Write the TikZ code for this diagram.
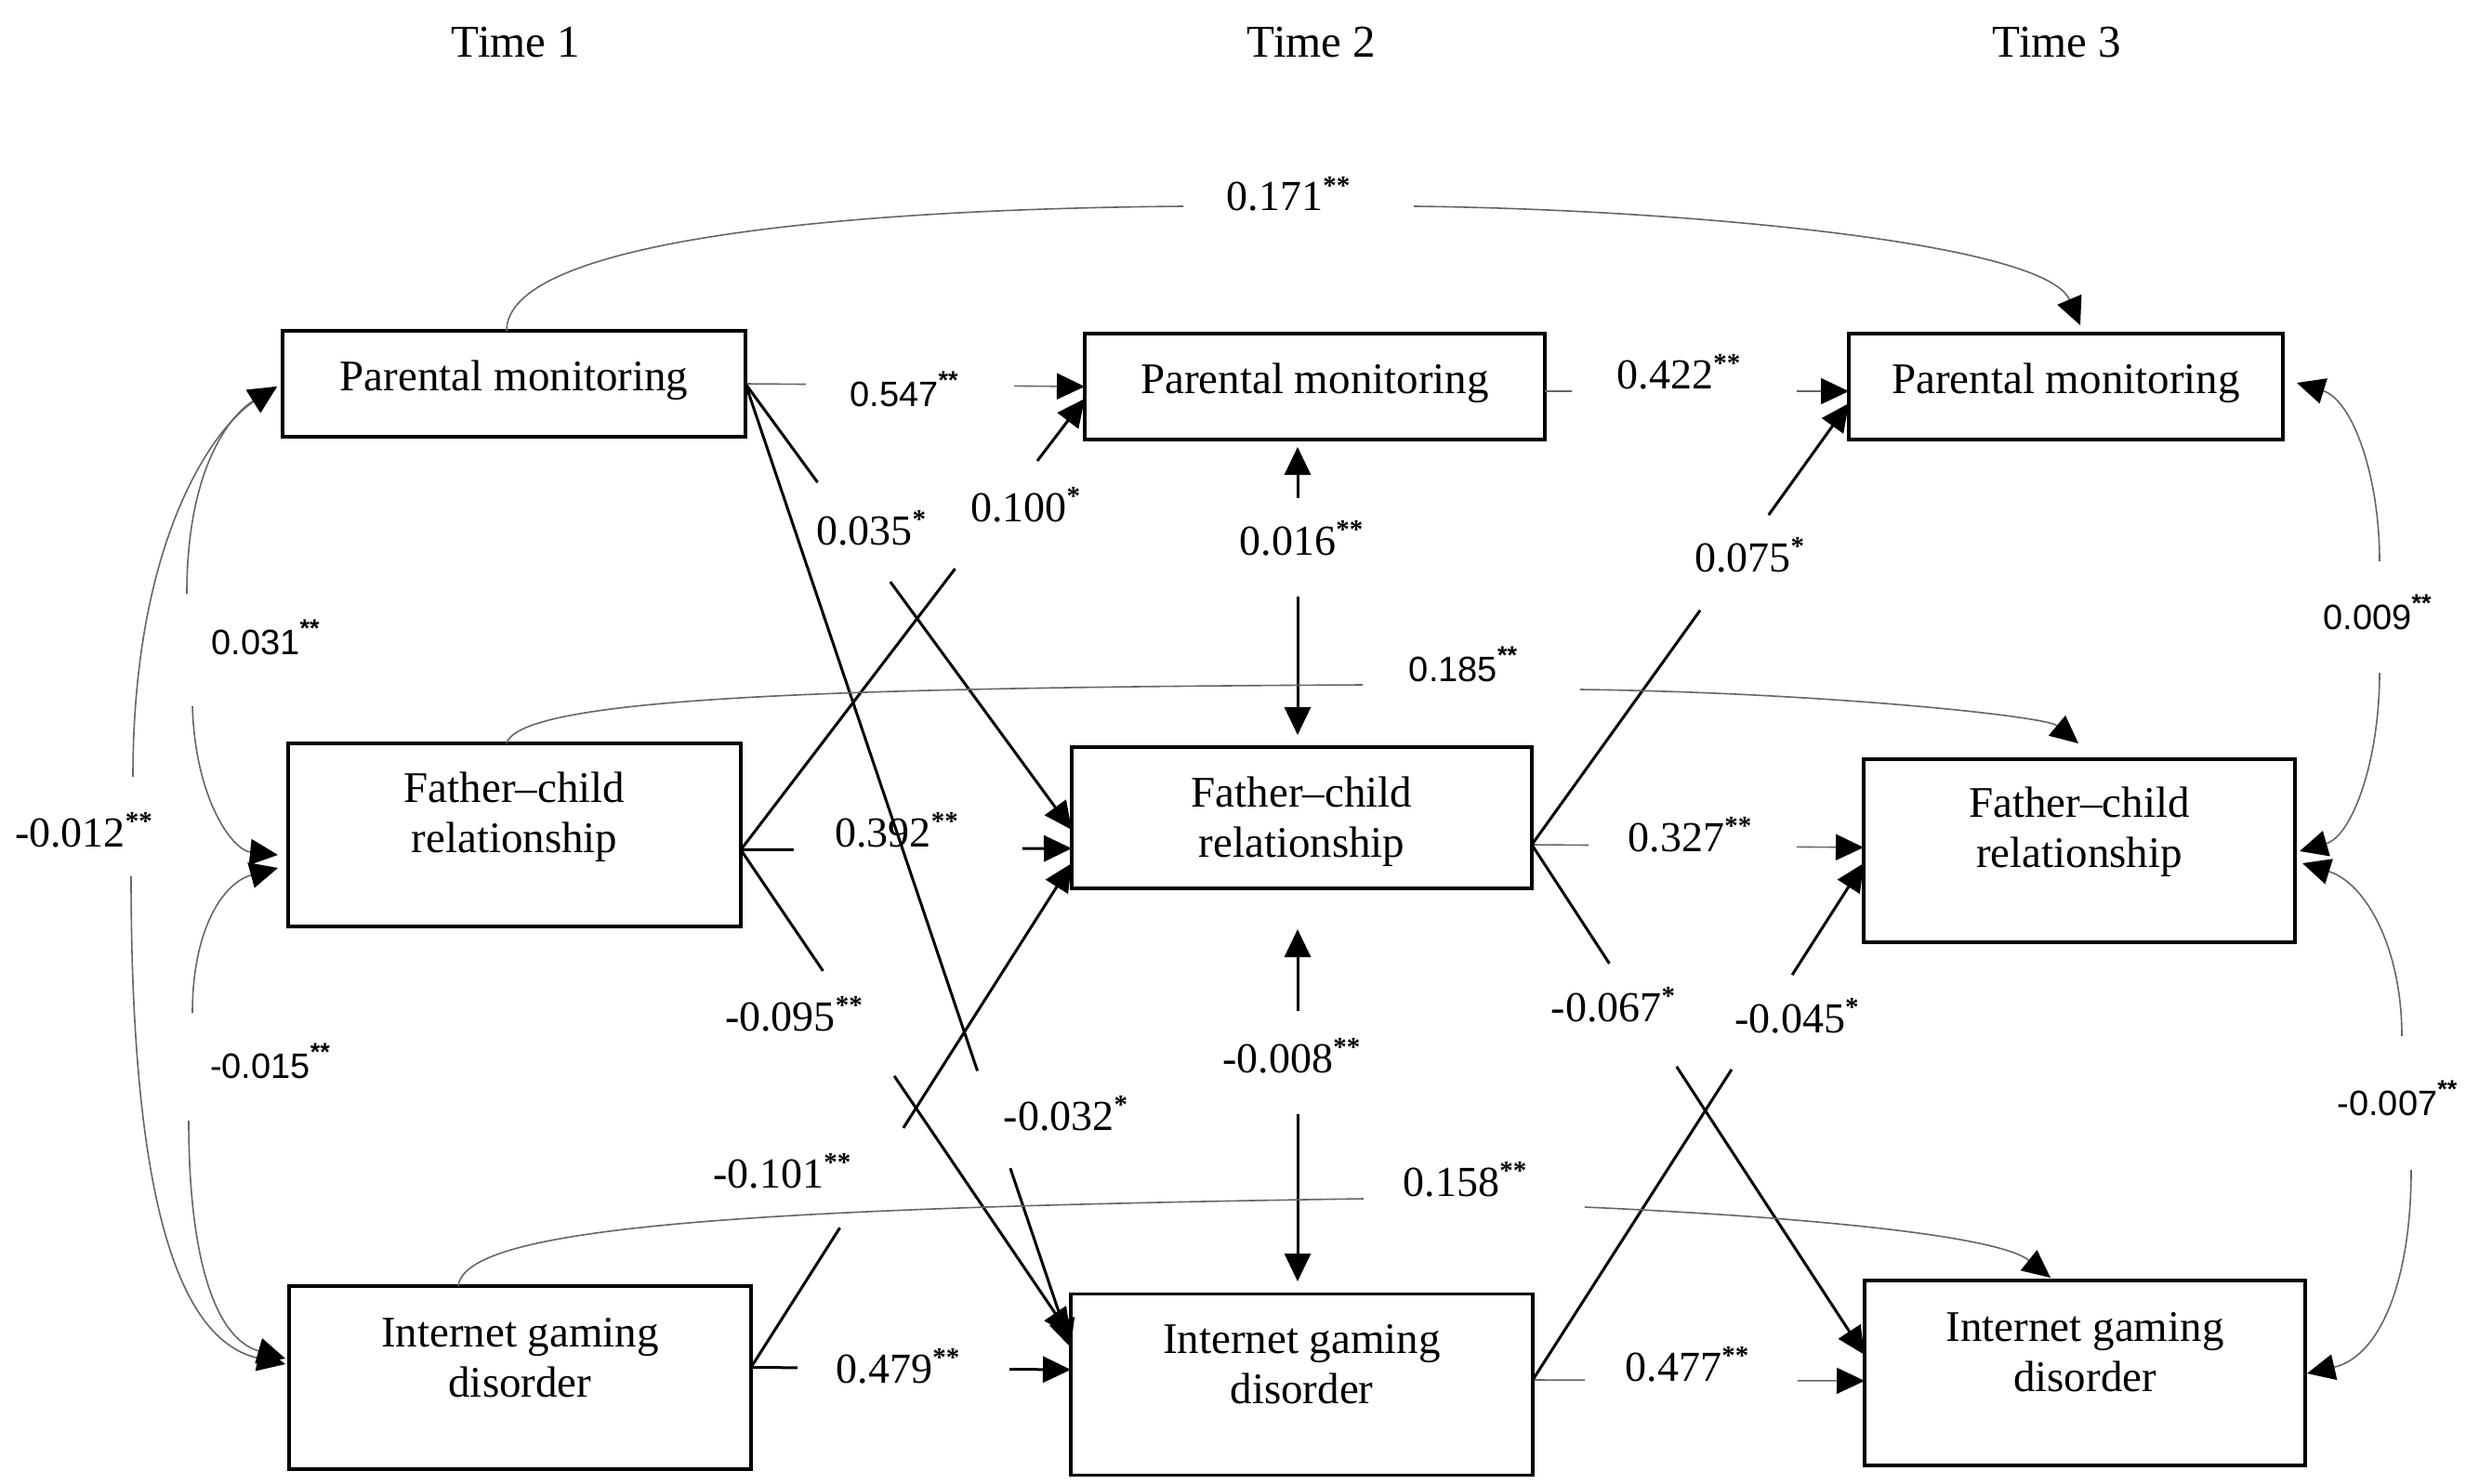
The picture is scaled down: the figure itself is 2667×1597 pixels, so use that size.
\documentclass[tikz,border=0pt]{standalone}
\usepackage{fontspec}
\setmainfont{Liberation Serif}
\newfontfamily\lsans{Liberation Sans}
\usetikzlibrary{arrows.meta,calc}
\newcommand\boxfont{\fontsize{47}{54}\selectfont}
\newcommand\labfont{\fontsize{46}{54}\selectfont}
\newcommand\slabfont{\lsans\fontsize{38}{46}\selectfont}
\newcommand\timefont{\fontsize{49}{56}\selectfont}
\newcommand\sg[1]{\raisebox{0.38em}{\fontsize{29}{29}\selectfont\bfseries #1}}
\newcommand\ssg[1]{\raisebox{0.5em}{\fontsize{27}{27}\selectfont\bfseries #1}}
\newcommand\twol[2]{\begin{tabular}[t]{@{}c@{}}#1\\#2\end{tabular}}
\newcommand\gapline[5]{\draw[#1] (#2) -- ($(#2)!#4!(#3)$); \draw[#1,arrowend] ($(#2)!#5!(#3)$) -- (#3);}
\begin{document}
\begin{tikzpicture}[x=1pt,y=-1pt,
  bx/.style={draw, rectangle, line width=3.5pt, inner sep=0pt, outer sep=0pt},
  bxt/.style={anchor=base, inner sep=0pt, font=\boxfont},
  lab/.style={anchor=base, inner sep=0pt, font=\labfont},
  slab/.style={anchor=base, inner sep=0pt, font=\slabfont},
  timelab/.style={anchor=base, inner sep=0pt, font=\timefont},
  boldln/.style={line width=3pt, draw=black},
  thinln/.style={line width=1.6pt, draw=black!60},
  arrowend/.style={-{Triangle[length=30pt,width=28pt,color=black,fill=black]}},
  arrowstart/.style={{Triangle[length=30pt,width=28pt,color=black,fill=black]}-}
]
\fill[white] (0,0) rectangle (2667,1597);
\useasboundingbox (0,0) rectangle (2667,1597);

% time labels
\node[timelab] (t1) at (555,62) {Time 1};
\node[timelab] (t2) at (1411,62) {Time 2};
\node[timelab] (t3) at (2213,62) {Time 3};

% boxes
\node[bx, minimum width=498, minimum height=114] (pm1) at (553,413) {};
\node[bx, minimum width=487, minimum height=197] (fc1) at (553.5,898.5) {};
\node[bx, minimum width=497, minimum height=197] (igd1) at (559.5,1482.5) {};
\node[bx, minimum width=495, minimum height=114] (pm2) at (1414.5,416) {};
\node[bx, minimum width=495, minimum height=152] (fc2) at (1400.5,880) {};
\node[bx, minimum width=497, minimum height=195] (igd2) at (1400.5,1490) {};
\node[bx, minimum width=467, minimum height=114] (pm3) at (2222.5,416) {};
\node[bx, minimum width=464, minimum height=197] (fc3) at (2237,915.5) {};
\node[bx, minimum width=474, minimum height=199] (igd3) at (2243,1477.5) {};

% box texts
\node[bxt] (pm1t) at ($(pm1.north)+(0,64)$) {Parental monitoring};
\node[bxt] (pm2t) at ($(pm2.north)+(0,64)$) {Parental monitoring};
\node[bxt] (pm3t) at ($(pm3.north)+(0,64)$) {Parental monitoring};
\node[bxt] (fc1t) at ($(fc1.north)+(0,63)$) {\twol{Father–child}{relationship}};
\node[bxt] (fc2t) at ($(fc2.north)+(0,64)$) {\twol{Father–child}{relationship}};
\node[bxt] (fc3t) at ($(fc3.north)+(0,62)$) {\twol{Father–child}{relationship}};
\node[bxt] (igd1t) at ($(igd1.north)+(0,65)$) {\twol{Internet gaming}{disorder}};
\node[bxt] (igd2t) at ($(igd2.north)+(0,64)$) {\twol{Internet gaming}{disorder}};
\node[bxt] (igd3t) at ($(igd3.north)+(0,65)$) {\twol{Internet gaming}{disorder}};

% endpoints
\coordinate (pm1E) at (pm1.east);
\coordinate (fc1E) at ($(fc1.east)+(0,16)$);
\coordinate (igd1E) at ($(igd1.east)+(0,-11)$);
\coordinate (pm2E) at ($(pm2.east)+(0,5)$);
\coordinate (fc2E) at ($(fc2.east)+(0,29)$);
\coordinate (igd2E) at ($(igd2.east)+(0,-5)$);
\coordinate (pm2Wa) at (pm2.west);
\coordinate (pm2Wb) at ($(pm2.west)+(0,13)$);
\coordinate (fc2Wa) at ($(fc2.west)+(0,13)$);
\coordinate (fc2Wb) at ($(fc2.west)+(0,33)$);
\coordinate (fc2Wc) at ($(fc2.west)+(0,49)$);
\coordinate (igd2Wa) at ($(igd2.west)+(0,-52)$);
\coordinate (igd2Wb) at ($(igd2.west)+(0,-40)$);
\coordinate (igd2Wc) at ($(igd2.west)+(0,-16)$);
\coordinate (pm3Wa) at ($(pm3.west)+(0,5)$);
\coordinate (pm3Wb) at ($(pm3.west)+(0,18)$);
\coordinate (fc3Wa) at ($(fc3.west)+(0,-3.5)$);
\coordinate (fc3Wb) at ($(fc3.west)+(0,13.5)$);
\coordinate (igd3Wa) at ($(igd3.west)+(0,-19.5)$);
\coordinate (igd3Wb) at ($(igd3.west)+(0,8.5)$);

% autoregressive paths
\gapline{thinln}{pm1E}{pm2Wa}{0.178}{0.792}
\gapline{thinln}{pm2E}{pm3Wa}{0.089}{0.829}
\gapline{boldln}{fc1E}{fc2Wb}{0.16}{0.851}
\gapline{thinln}{fc2E}{fc3Wa}{0.171}{0.798}
\gapline{boldln}{igd1E}{igd2Wc}{0.145}{0.808}
\gapline{thinln}{igd2E}{igd3Wb}{0.157}{0.798}
% cross-lagged paths
\gapline{boldln}{pm1E}{fc2Wa}{0.221}{0.444}
\gapline{boldln}{pm1E}{igd2Wb}{0.713}{0.814}
\gapline{boldln}{fc1E}{pm2Wb}{0.623}{0.862}
\gapline{boldln}{fc1E}{igd2Wa}{0.249}{0.465}
\gapline{boldln}{igd1E}{fc2Wc}{0.277}{0.475}
\gapline{boldln}{fc2E}{pm3Wb}{0.531}{0.747}
\gapline{boldln}{fc2E}{igd3Wa}{0.233}{0.435}
\gapline{boldln}{igd2E}{fc3Wb}{0.601}{0.784}

% time 2 correlations
\coordinate (v1t) at ($(pm2.south)+(-18.5,8)$);
\coordinate (v1b) at ($(fc2.north)+(-4.5,-13)$);
\draw[boldln,arrowend] ($(v1t)!0.177!(v1b)$) -- (v1t);
\draw[boldln,arrowend] ($(v1t)!0.519!(v1b)$) -- (v1b);
\coordinate (v2t) at ($(fc2.south)+(-4.5,44)$);
\coordinate (v2b) at ($(igd2.north)+(-4.5,-13.5)$);
\draw[boldln,arrowend] ($(v2t)!0.232!(v2b)$) -- (v2t);
\draw[boldln,arrowend] ($(v2t)!0.526!(v2b)$) -- (v2b);

% time 1 correlations (left curves)
\coordinate (ca0) at ($(pm1.west)+(-6,3)$);
\coordinate (ga1) at (201,639);
\coordinate (ga2) at (207,760);
\coordinate (ca3) at ($(fc1.west)+(-11,21.5)$);
\draw[thinln,arrowstart] (ca0) .. controls (250,445) and (201,500) .. (ga1);
\draw[thinln,arrowend] (ga2) .. controls (210,860) and (250,915) .. (ca3);
\coordinate (gc1) at (143,836);
\coordinate (gc2) at (141,943);
\coordinate (cc3) at ($(igd1.west)+(-4,-14.5)$);
\draw[thinln,arrowstart] (ca0) .. controls (230,460) and (143,580) .. (gc1);
\draw[thinln,arrowend] (gc2) .. controls (141,1250) and (180,1440) .. (cc3);
\coordinate (cb0) at ($(fc1.west)+(-11,35.5)$);
\coordinate (gb1) at (207,1090);
\coordinate (gb2) at (203,1206);
\coordinate (cb3) at ($(igd1.west)+(-4,-20.5)$);
\draw[thinln,arrowstart] (cb0) .. controls (240,950) and (207,1000) .. (gb1);
\draw[thinln,arrowend] (gb2) .. controls (203,1350) and (230,1440) .. (cb3);

% time 3 correlations (right curves)
\coordinate (cd0) at ($(pm3.east)+(15,-4)$);
\coordinate (gd1) at (2560,604);
\coordinate (gd2) at (2560,724);
\coordinate (cd3) at ($(fc3.east)+(5,0.5)$);
\draw[thinln,arrowstart] (cd0) .. controls (2530,430) and (2560,510) .. (gd1);
\draw[thinln,arrowend] (gd2) .. controls (2560,820) and (2530,900) .. (cd3);
\coordinate (ce0) at ($(fc3.east)+(8,13.5)$);
\coordinate (ge1) at (2584,1115);
\coordinate (ge2) at (2594,1259);
\coordinate (ce3) at ($(igd3.east)+(2,0.5)$);
\draw[thinln,arrowstart] (ce0) .. controls (2545,950) and (2584,1020) .. (ge1);
\draw[thinln,arrowend] (ge2) .. controls (2594,1380) and (2560,1460) .. (ce3);

% time 1 -> time 3 paths (top curves)
\coordinate (cf0) at ($(pm1.north)+(-8,0)$);
\coordinate (gf1) at (1273,222);
\coordinate (gf2) at (1521,222);
\coordinate (cf3) at ($(pm3.north)+(15.5,-9)$);
\draw[thinln] (cf0) .. controls (545,260) and (900,225) .. (gf1);
\draw[thinln,arrowend] (gf2) .. controls (1800,225) and (2200,260) .. (cf3);
\coordinate (cg0) at ($(fc1.north)+(-8.5,0)$);
\coordinate (gg1) at (1466,737);
\coordinate (gg2) at (1700,742);
\coordinate (cg3) at ($(fc3.north)+(-1,-17)$);
\draw[thinln] (cg0) .. controls (560,750) and (900,740) .. (gg1);
\draw[thinln,arrowend] (gg2) .. controls (1950,745) and (2200,770) .. (cg3);
\coordinate (ch0) at ($(igd1.north)+(-66.5,0)$);
\coordinate (gh1) at (1467,1290);
\coordinate (gh2) at (1705,1299);
\coordinate (ch3) at ($(igd3.north)+(-37,-3)$);
\draw[thinln] (ch0) .. controls (500,1320) and (800,1300) .. (gh1);
\draw[thinln,arrowend] (gh2) .. controls (1950,1310) and (2150,1330) .. (ch3);

% coefficient labels
\node[lab] (l171) at (1386,227) {0.171\sg{**}};
\node[slab] (l547) at (972.5,437) {0.547\ssg{**}};
\node[lab] (l422) at (1806,418) {0.422\sg{**}};
\node[lab] (l100) at (1103,561) {0.100\sg{*}};
\node[lab] (l035) at (937,586) {0.035\sg{*}};
\node[lab] (l016) at (1400,597) {0.016\sg{**}};
\node[slab] (l031) at (285.5,704) {0.031\ssg{**}};
\node[lab] (l012) at (90,911) {-0.012\sg{**}};
\node[slab] (l015) at (290.5,1160) {-0.015\ssg{**}};
\node[slab] (l185) at (1574,733) {0.185\ssg{**}};
\node[lab] (l392) at (964.5,911) {0.392\sg{**}};
\node[lab] (l095) at (854,1109) {-0.095\sg{**}};
\node[lab] (l032) at (1146.5,1216) {-0.032\sg{*}};
\node[lab] (l101) at (841.5,1278) {-0.101\sg{**}};
\node[lab] (l479) at (966,1488) {0.479\sg{**}};
\node[lab] (l008) at (1389.5,1154) {-0.008\sg{**}};
\node[lab] (l158) at (1576,1287) {0.158\sg{**}};
\node[lab] (l075) at (1882,615) {0.075\sg{*}};
\node[lab] (l327) at (1818,916) {0.327\sg{**}};
\node[lab] (l067) at (1735.5,1099) {-0.067\sg{*}};
\node[lab] (l045) at (1933,1111) {-0.045\sg{*}};
\node[lab] (l477) at (1815,1486) {0.477\sg{**}};
\node[slab] (l009) at (2557.5,677) {0.009\ssg{**}};
\node[slab] (l007) at (2579,1200) {-0.007\ssg{**}};
\end{tikzpicture}
\end{document}
